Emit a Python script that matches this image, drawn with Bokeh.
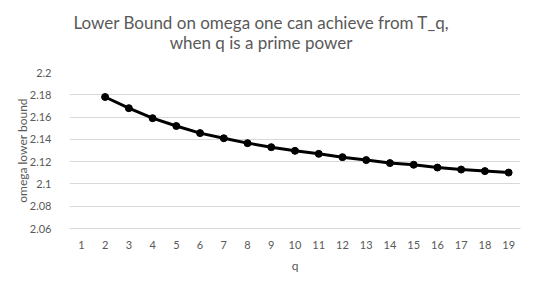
from bokeh.plotting import figure
from bokeh.models import Range1d, FixedTicker, CustomJSTickFormatter, Div
from bokeh.layouts import column
from bokeh.embed import file_html
from bokeh.resources import INLINE

# Data
q_values = [2, 3, 4, 5, 6, 7, 8, 9, 10, 11, 12, 13, 14, 15, 16, 17, 18, 19]
omega_lower = [2.178, 2.168, 2.159, 2.152, 2.1456, 2.141, 2.1366, 2.133, 2.1297,
               2.127, 2.124, 2.1214, 2.1187, 2.1172, 2.1147, 2.1129, 2.1115, 2.1102]
x_ticks = list(range(1, 20))
y_ticks = [2.06, 2.08, 2.10, 2.12, 2.14, 2.16, 2.18, 2.20]
title_line1 = "Lower Bound on omega one can achieve from T_q,"
title_line2 = "when q is a prime power"

FONT = "Lato"
GREY = "#595959"

title_div = Div(
    text=(f'<div style="width:522px;padding-top:13px;text-align:center;'
          f'font-family:{FONT};font-size:17px;line-height:20px;color:{GREY};">'
          f'{title_line1}<br>{title_line2}</div>'),
    width=534, height=64, margin=(0, 0, 0, 0))

p = figure(width=534, height=224, output_backend="svg", toolbar_location=None,
           x_range=Range1d(0.5, 19.5), y_range=Range1d(2.06, 2.2),
           min_border_left=69, min_border_right=14, min_border_top=8,
           min_border_bottom=60, margin=(0, 0, 0, 0))
p.outline_line_color = None
p.title.visible = False

p.line(q_values, omega_lower, line_color="black", line_width=3)
p.scatter(q_values, omega_lower, size=7, fill_color="black", line_color="black")

# axes
p.xaxis.ticker = FixedTicker(ticks=x_ticks)
p.yaxis.ticker = FixedTicker(ticks=y_ticks)
p.yaxis.formatter = CustomJSTickFormatter(code="return (Math.round(tick*100)/100).toString();")
for ax in (p.xaxis[0], p.yaxis[0]):
    ax.major_tick_line_color = None
    ax.minor_tick_line_color = None
    ax.major_label_text_font = FONT
    ax.major_label_text_font_size = "11px"
    ax.major_label_text_color = GREY
    ax.axis_label_text_font = FONT
    ax.axis_label_text_font_size = "12px"
    ax.axis_label_text_color = GREY
    ax.axis_label_text_font_style = "normal"
p.yaxis.axis_line_color = None
p.xaxis.axis_line_color = "#d9d9d9"
p.yaxis.major_label_standoff = 12
p.xaxis.major_label_standoff = 6
p.yaxis.axis_label = "omega lower bound"
p.xaxis.axis_label = "q"
p.yaxis.axis_label_standoff = -3
p.xaxis.axis_label_standoff = 6

p.xgrid.grid_line_color = None
p.ygrid.grid_line_color = "#d9d9d9"
p.ygrid.grid_line_width = 1

layout = column(title_div, p, spacing=0, margin=(0, 0, 0, 0))
open("out.html", "w").write(file_html(layout, INLINE))
